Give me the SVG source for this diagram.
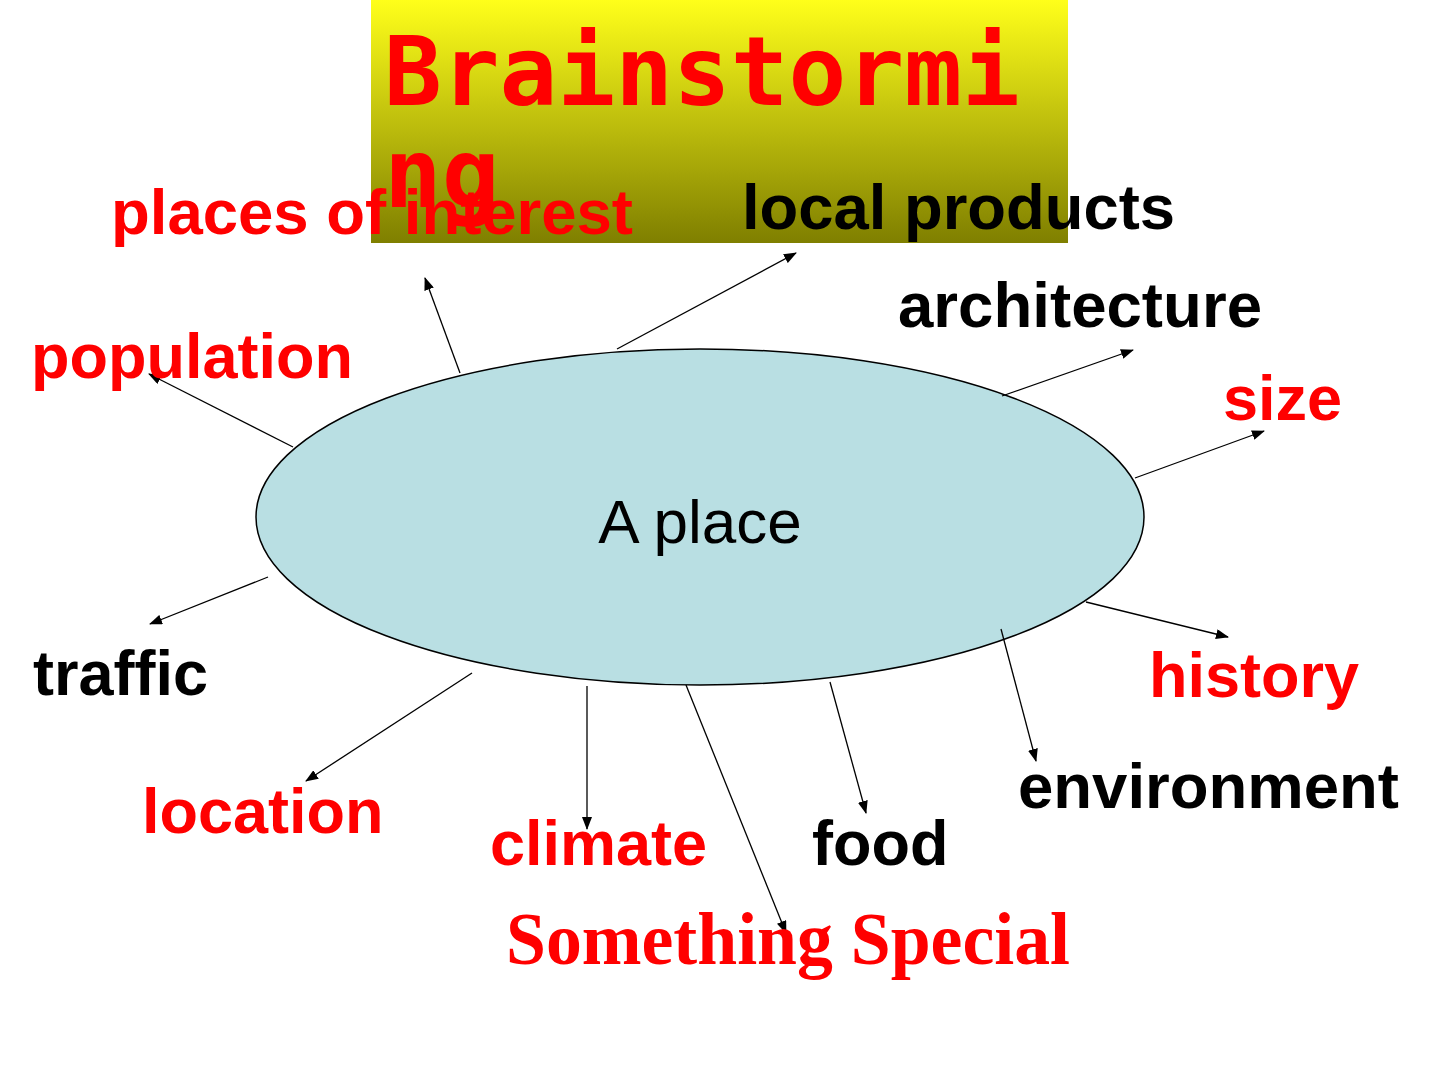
<svg xmlns="http://www.w3.org/2000/svg" width="1440" height="1080" viewBox="0 0 1440 1080">
<style>
.lbl{font-family:"Liberation Sans",Arial,sans-serif;font-weight:bold;font-size:63px}
.red{fill:#ff0000}
.blk{fill:#000000}
.con{stroke:#000;stroke-width:1.3;fill:none;marker-end:url(#ah)}
</style>
<defs>
<linearGradient id="tg" x1="0" y1="0" x2="0" y2="1">
<stop offset="0" stop-color="#ffff1a"/>
<stop offset="1" stop-color="#7f7f00"/>
</linearGradient>
<marker id="ah" viewBox="0 0 13 10" refX="12" refY="5" markerWidth="13" markerHeight="10" markerUnits="userSpaceOnUse" orient="auto">
<path d="M0,0 L13,5 L0,10 Z" fill="#000"/>
</marker>
</defs>
<rect width="1440" height="1080" fill="#ffffff"/>
<g id="title">
<rect x="371" y="0" width="697" height="243" fill="url(#tg)"/>
<text x="384" y="105" font-family="'DejaVu Sans Mono',monospace" font-weight="bold" font-size="96" fill="#ff0000">Brainstormi</text>
<text x="384" y="207" font-family="'DejaVu Sans Mono',monospace" font-weight="bold" font-size="96" fill="#ff0000">ng</text>
</g>
<g id="center">
<ellipse cx="700" cy="517" rx="444" ry="168" fill="#b9dfe3" stroke="#000" stroke-width="1.5"/>
<text x="700" y="543" text-anchor="middle" font-family="'Liberation Sans',Arial,sans-serif" font-size="62" fill="#000">A place</text>
</g>
<g id="connectors">
<line class="con" x1="460" y1="373" x2="425" y2="278"/>
<line class="con" x1="293" y1="447" x2="149" y2="374"/>
<line class="con" x1="617" y1="349" x2="796" y2="253"/>
<line class="con" x1="1002" y1="396" x2="1133" y2="350"/>
<line class="con" x1="1135" y1="478" x2="1264" y2="431"/>
<line class="con" x1="268" y1="577" x2="150" y2="624"/>
<line class="con" x1="472" y1="673" x2="306" y2="781"/>
<line class="con" x1="587" y1="686" x2="587" y2="829"/>
<line class="con" x1="686" y1="685" x2="786" y2="933"/>
<line class="con" x1="830" y1="682" x2="866" y2="813"/>
<line class="con" x1="1001" y1="629" x2="1036" y2="761"/>
<line class="con" x1="1086" y1="602" x2="1228" y2="637"/>
</g>
<g id="places-of-interest"><text class="lbl red" x="111" y="234" textLength="522" lengthAdjust="spacingAndGlyphs">places of interest</text></g>
<g id="local-products"><text class="lbl blk" x="742" y="229" textLength="433" lengthAdjust="spacingAndGlyphs">local products</text></g>
<g id="architecture"><text class="lbl blk" x="898" y="327" textLength="364" lengthAdjust="spacingAndGlyphs">architecture</text></g>
<g id="population"><text class="lbl red" x="31" y="378">population</text></g>
<g id="size"><text class="lbl red" x="1223" y="420">size</text></g>
<g id="traffic"><text class="lbl blk" x="33" y="695">traffic</text></g>
<g id="history"><text class="lbl red" x="1149" y="697">history</text></g>
<g id="location"><text class="lbl red" x="142" y="833">location</text></g>
<g id="environment"><text class="lbl blk" x="1018" y="808" textLength="381" lengthAdjust="spacingAndGlyphs">environment</text></g>
<g id="climate"><text class="lbl red" x="490" y="865">climate</text></g>
<g id="food"><text class="lbl blk" x="812" y="865">food</text></g>
<g id="something-special"><text x="506" y="964" font-family="'Liberation Serif','Times New Roman',serif" font-weight="bold" font-size="73" fill="#ff0000" textLength="564" lengthAdjust="spacingAndGlyphs">Something Special</text></g>
</svg>
